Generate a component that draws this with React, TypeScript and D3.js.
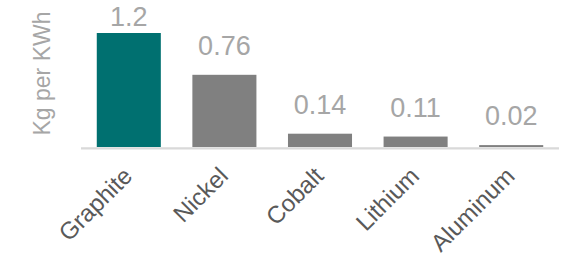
import React from "react";
import * as d3 from "d3";

const categories = ["Graphite", "Nickel", "Cobalt", "Lithium", "Aluminum"];
const values = [1.2, 0.76, 0.14, 0.11, 0.02];
const valueLabels = ["1.2", "0.76", "0.14", "0.11", "0.02"];
const barColors = ["#007070", "#808080", "#808080", "#808080", "#808080"];
const yTitle = "Kg per KWh";

const W = 566;
const H = 260;
const baseY = 147;
const topY = 33;
const FONT = "'Liberation Sans', Arial, sans-serif";

export default function App() {
  const x = d3
    .scaleBand<string>()
    .domain(categories)
    .range([81, 559])
    .paddingInner(0.33)
    .paddingOuter(0.165);
  const y = d3.scaleLinear().domain([0, 1.2]).range([baseY, topY]);

  return (
    <svg
      width={W}
      height={H}
      style={{ position: "absolute", left: 0, top: 0, background: "#fff" }}
      fontFamily={FONT}
    >
      {categories.map((c, i) => (
        <rect
          key={c}
          x={x(c)}
          y={y(values[i])}
          width={x.bandwidth()}
          height={baseY - y(values[i])}
          fill={barColors[i]}
        />
      ))}
      <line x1={81} x2={559} y1={148.3} y2={148.3} stroke="#d9d9d9" strokeWidth={2.2} />
      {categories.map((c, i) => (
        <text
          key={"v" + c}
          x={(x(c) as number) + x.bandwidth() / 2}
          y={Math.max(y(values[i]) - 20, 26)}
          textAnchor="middle"
          fontSize={27}
          fill="#a6a6a6"
        >
          {valueLabels[i]}
        </text>
      ))}
      {categories.map((c) => (
        <text
          key={"c" + c}
          transform={`translate(${(x(c) as number) + x.bandwidth() / 2 + 5},177.5) rotate(-45)`}
          textAnchor="end"
          fontSize={24}
          fill="#595959"
        >
          {c}
        </text>
      ))}
      <text
        transform="translate(49.5,73.5) rotate(-90)"
        textAnchor="middle"
        fontSize={23}
        fill="#a6a6a6"
      >
        {yTitle}
      </text>
    </svg>
  );
}
